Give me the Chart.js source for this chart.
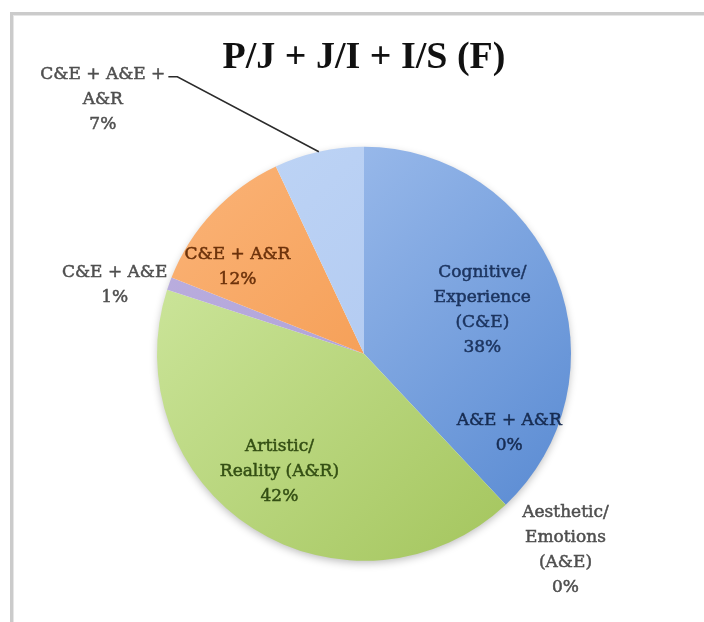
<!DOCTYPE html>
<html lang="en">
<head>
    <meta charset="UTF-8">
    <title>P/J + J/I + I/S (F)</title>
    <script src="https://cdn.jsdelivr.net/npm/chart.js"></script>
    <style>
        html, body {
            margin: 0;
            padding: 0;
            background: #ffffff;
        }
        .chart-wrap {
            position: relative;
            width: 704px;
            height: 622px;
        }
    </style>
</head>
<body>
    <div class="chart-wrap">
        <canvas id="pieChart"></canvas>
    </div>

    <script>
        // Data (clockwise from 12 o'clock)
        const categories = [
            ['Cognitive/', 'Experience', '(C&E)'],
            ['A&E + A&R'],
            ['Aesthetic/', 'Emotions', '(A&E)'],
            ['Artistic/', 'Reality (A&R)'],
            ['C&E + A&E'],
            ['C&E + A&R'],
            ['C&E + A&E +', 'A&R']
        ];
        const shares = [38, 0, 0, 42, 1, 12, 7];
        const chartTitle = 'P/J + J/I + I/S (F)';

        // Slice gradients: light at top, darker at bottom
        const fillTop = ['#adc8f2', '#6f9ee0', '#c96663', '#d3eba6', '#bdb1e0', '#fbb57a', '#c0d6f6'];
        const fillBottom = ['#5386d0', '#4a7cc4', '#b04a47', '#a0c257', '#a596d2', '#f08c38', '#a8c2ee'];

        // Label placement: angle shift (deg) from the slice middle, distance as share of radius
        const labelPlace = [
            { da: 1.2, rf: 0.61, color: '#1d3560' },
            { da: -18.1, rf: 0.80, color: '#172c52' },
            { da: -2.5, rf: 1.36, color: '#4f4f4f' },
            { da: 3.3, rf: 0.70, color: '#344f14' },
            { da: -4.3, rf: 1.25, color: '#4f4f4f' },
            { da: -8.9, rf: 0.74, color: '#6c320b' },
            { da: -33.2, rf: 1.76, color: '#4f4f4f', leader: true }
        ];

        const labelFont = '17px "DejaVu Serif", serif';
        const lineH = 25;

        function sliceFill(context) {
            const chart = context.chart;
            const area = chart.chartArea;
            const i = context.dataIndex;
            if (!area) return fillTop[i];
            const g = chart.ctx.createLinearGradient(area.left, area.top, area.right, area.bottom);
            g.addColorStop(0, fillTop[i]);
            g.addColorStop(1, fillBottom[i]);
            return g;
        }

        // Gray frame + soft shadow under the pie
        const framePlugin = {
            id: 'frame',
            beforeDraw(chart) {
                const ctx = chart.ctx;
                ctx.save();
                ctx.fillStyle = '#cbcbcb';
                ctx.fillRect(10, 12, 3, chart.height - 12);
                ctx.fillRect(10, 12, chart.width - 10, 3);
                ctx.fillStyle = '#e6e6e6';
                ctx.fillRect(13, 15, 1, chart.height - 15);
                ctx.fillRect(13, 15, chart.width - 13, 1);
                ctx.restore();
            },
            beforeDatasetsDraw(chart) {
                const arc = chart.getDatasetMeta(0).data[0];
                const ctx = chart.ctx;
                ctx.save();
                ctx.shadowColor = 'rgba(0, 0, 0, 0.28)';
                ctx.shadowBlur = 8;
                ctx.shadowOffsetY = 3;
                ctx.fillStyle = '#ffffff';
                ctx.beginPath();
                ctx.arc(arc.x, arc.y, arc.outerRadius - 1, 0, Math.PI * 2);
                ctx.fill();
                ctx.restore();
            }
        };

        // Slice labels: category lines + percentage
        const sliceLabels = {
            id: 'sliceLabels',
            afterDatasetsDraw(chart) {
                const ctx = chart.ctx;
                const arcs = chart.getDatasetMeta(0).data;
                ctx.save();
                ctx.font = labelFont;
                ctx.textAlign = 'center';
                ctx.textBaseline = 'middle';
                ctx.lineWidth = 0.5;
                arcs.forEach((arc, i) => {
                    const p = labelPlace[i];
                    const mid = (arc.startAngle + arc.endAngle) / 2 + p.da * Math.PI / 180;
                    const r = arc.outerRadius * p.rf;
                    const cx = arc.x + Math.cos(mid) * r;
                    const cy = arc.y + Math.sin(mid) * r;
                    const lines = categories[i].concat([shares[i] + '%']);
                    const y0 = cy - (lines.length - 1) * lineH / 2;
                    ctx.fillStyle = p.color;
                    ctx.strokeStyle = p.color;
                    lines.forEach((t, k) => {
                        ctx.fillText(t, cx, y0 + k * lineH);
                        ctx.strokeText(t, cx, y0 + k * lineH);
                    });
                    if (p.leader) {
                        const am = (arc.startAngle + arc.endAngle) / 2;
                        const w = ctx.measureText(lines[0]).width;
                        const sx = cx + w / 2 + 3;
                        ctx.save();
                        ctx.strokeStyle = '#2b2b2b';
                        ctx.lineWidth = 1.5;
                        ctx.beginPath();
                        ctx.moveTo(sx, y0 + 2);
                        ctx.lineTo(sx + 9, y0 + 2);
                        ctx.lineTo(arc.x + Math.cos(am) * arc.outerRadius, arc.y + Math.sin(am) * arc.outerRadius);
                        ctx.stroke();
                        ctx.restore();
                    }
                });
                ctx.restore();
            }
        };

        const pieCtx = document.getElementById('pieChart').getContext('2d');
        const pieChart = new Chart(pieCtx, {
            type: 'pie',
            data: {
                labels: categories,
                datasets: [{
                    data: shares,
                    backgroundColor: sliceFill,
                    borderWidth: 0
                }]
            },
            options: {
                responsive: true,
                maintainAspectRatio: false,
                animation: false,
                layout: {
                    padding: { top: 10, left: 157, right: 133, bottom: 61 }
                },
                plugins: {
                    legend: { display: false },
                    tooltip: { enabled: false },
                    title: {
                        display: true,
                        text: chartTitle,
                        color: '#111111',
                        font: { family: '"Liberation Serif", serif', size: 38, weight: 'bold', lineHeight: 1.2 },
                        padding: { top: 25, bottom: 66 }
                    }
                }
            },
            plugins: [framePlugin, sliceLabels]
        });
    </script>
</body>
</html>
